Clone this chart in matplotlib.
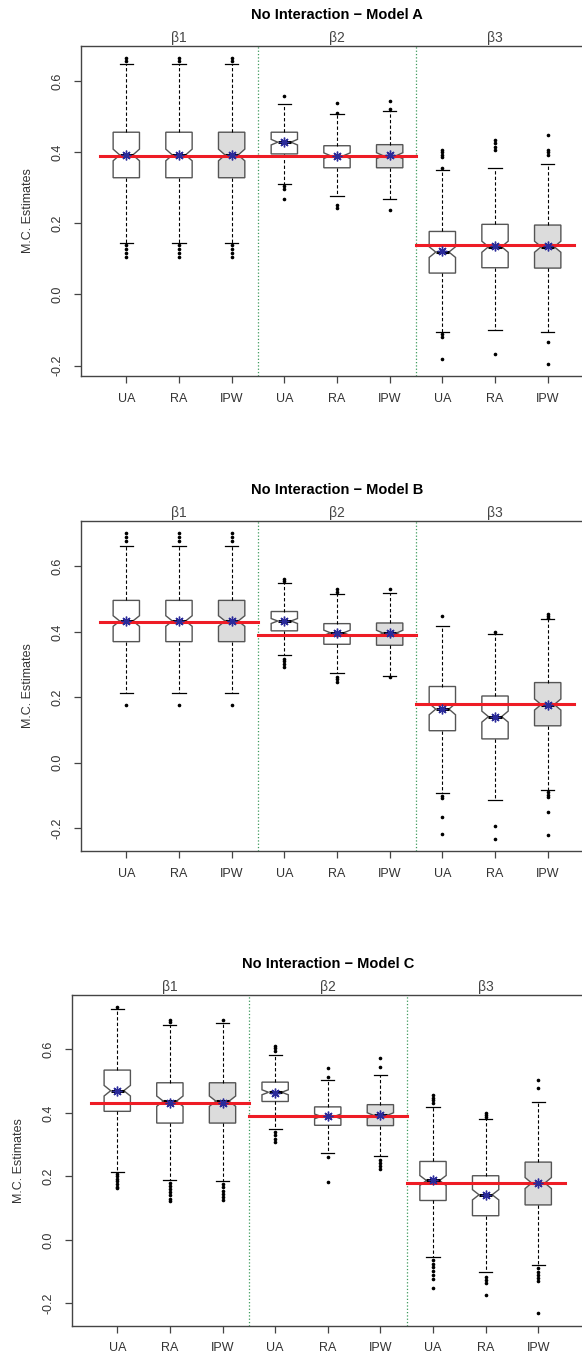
import numpy as np
import matplotlib.pyplot as plt

plt.rcParams['font.family'] = ['Liberation Sans', 'DejaVu Sans']

methods = ['UA', 'RA', 'IPW']
params = ['β1', 'β2', 'β3']
titles = ['No Interaction − Model A', 'No Interaction − Model B', 'No Interaction − Model C']
n_rep = 150  # replications, only used for the notch size

# true values (red lines), one per parameter
true_A = [0.39, 0.39, 0.14]
true_B = [0.43, 0.39, 0.18]
true_C = [0.43, 0.39, 0.18]

# box stats, order: b1 UA RA IPW, b2 UA RA IPW, b3 UA RA IPW
q1_A = [0.328, 0.328, 0.328, 0.395, 0.356, 0.356, 0.060, 0.075, 0.074]
med_A = [0.392, 0.392, 0.392, 0.428, 0.390, 0.390, 0.119, 0.134, 0.134]
q3_A = [0.456, 0.456, 0.456, 0.456, 0.418, 0.421, 0.177, 0.197, 0.195]
lo_A = [0.144, 0.144, 0.144, 0.311, 0.277, 0.268, -0.107, -0.100, -0.105]
hi_A = [0.647, 0.647, 0.647, 0.536, 0.506, 0.516, 0.350, 0.356, 0.368]
mean_A = [0.392, 0.392, 0.392, 0.429, 0.390, 0.391, 0.121, 0.136, 0.136]
fliers_A = [
    [0.664, 0.655, 0.139, 0.128, 0.116, 0.104],
    [0.664, 0.655, 0.139, 0.128, 0.116, 0.104],
    [0.664, 0.655, 0.139, 0.128, 0.116, 0.104],
    [0.559, 0.305, 0.296, 0.267],
    [0.539, 0.511, 0.252, 0.243],
    [0.544, 0.520, 0.237],
    [0.407, 0.400, 0.393, 0.386, 0.356, -0.112, -0.121, -0.182],
    [0.434, 0.425, 0.415, 0.406, -0.167],
    [0.448, 0.406, 0.399, 0.392, -0.133, -0.195],
]

q1_B = [0.370, 0.370, 0.370, 0.403, 0.362, 0.359, 0.098, 0.073, 0.113]
med_B = [0.433, 0.433, 0.433, 0.433, 0.397, 0.396, 0.164, 0.141, 0.178]
q3_B = [0.496, 0.496, 0.496, 0.462, 0.425, 0.427, 0.233, 0.204, 0.245]
lo_B = [0.212, 0.212, 0.212, 0.328, 0.274, 0.264, -0.093, -0.115, -0.083]
hi_B = [0.663, 0.663, 0.663, 0.549, 0.514, 0.518, 0.418, 0.392, 0.440]
mean_B = [0.433, 0.433, 0.433, 0.433, 0.397, 0.396, 0.164, 0.140, 0.178]
fliers_B = [
    [0.702, 0.690, 0.678, 0.175],
    [0.702, 0.690, 0.678, 0.175],
    [0.702, 0.690, 0.678, 0.175],
    [0.562, 0.556, 0.318, 0.310, 0.302, 0.294],
    [0.532, 0.521, 0.262, 0.255, 0.248],
    [0.532, 0.262],
    [0.449, -0.100, -0.107, -0.166, -0.217],
    [0.400, -0.192, -0.232],
    [0.455, 0.448, 0.443, -0.090, -0.097, -0.104, -0.149, -0.220],
]

q1_C = [0.405, 0.368, 0.368, 0.436, 0.361, 0.360, 0.124, 0.076, 0.110]
med_C = [0.470, 0.437, 0.437, 0.465, 0.389, 0.392, 0.187, 0.142, 0.179]
q3_C = [0.535, 0.495, 0.495, 0.497, 0.419, 0.426, 0.247, 0.202, 0.245]
lo_C = [0.215, 0.189, 0.184, 0.350, 0.274, 0.263, -0.055, -0.100, -0.079]
hi_C = [0.726, 0.676, 0.682, 0.583, 0.505, 0.521, 0.418, 0.382, 0.435]
mean_C = [0.470, 0.430, 0.430, 0.463, 0.389, 0.392, 0.187, 0.140, 0.178]
fliers_C = [
    [0.733, 0.208, 0.200, 0.192, 0.184, 0.176, 0.168, 0.163],
    [0.694, 0.686, 0.180, 0.170, 0.160, 0.150, 0.140, 0.130, 0.121],
    [0.692, 0.175, 0.165, 0.155, 0.145, 0.135, 0.124],
    [0.612, 0.603, 0.595, 0.340, 0.330, 0.318, 0.307],
    [0.540, 0.512, 0.262, 0.182],
    [0.572, 0.545, 0.253, 0.243, 0.232, 0.222],
    [0.455, 0.447, 0.440, 0.432, -0.064, -0.075, -0.086, -0.098, -0.110, -0.122, -0.151],
    [0.400, 0.394, 0.388, -0.116, -0.127, -0.137, -0.174],
    [0.505, 0.480, -0.090, -0.100, -0.110, -0.120, -0.130, -0.232],
]

panels = [
    (true_A, q1_A, med_A, q3_A, lo_A, hi_A, mean_A, fliers_A),
    (true_B, q1_B, med_B, q3_B, lo_B, hi_B, mean_B, fliers_B),
    (true_C, q1_C, med_C, q3_C, lo_C, hi_C, mean_C, fliers_C),
]

W, H = 582, 1359
# axes rectangles in pixels: left, top, right, bottom (right edge runs off the page)
rects_px = [(81, 46, 593, 376), (81, 520.7, 593, 851), (72, 995, 583.5, 1325.7)]

fig = plt.figure(figsize=(W / 100, H / 100), dpi=100)

labels = methods * len(params)
pos = np.arange(1, len(labels) + 1)

for p, (true, q1, med, q3, lo, hi, mean, fliers) in enumerate(panels):
    l, t, r, b = rects_px[p]
    ax = fig.add_axes([l / W, 1 - b / H, (r - l) / W, (b - t) / H])

    stats = []
    for i in range(len(med)):
        half = 1.57 * (q3[i] - q1[i]) / np.sqrt(n_rep)
        stats.append(dict(q1=q1[i], med=med[i], q3=q3[i], whislo=lo[i], whishi=hi[i],
                          mean=mean[i], fliers=np.array(fliers[i]),
                          cilo=med[i] - half, cihi=med[i] + half))

    bp = ax.bxp(stats, positions=pos, widths=0.5, shownotches=True, showmeans=True,
                patch_artist=True,
                boxprops=dict(edgecolor='#555555', linewidth=1.0),
                whiskerprops=dict(color='black', linestyle=(0, (3, 2)), linewidth=0.8),
                capprops=dict(color='black', linewidth=0.9),
                medianprops=dict(color='black', linewidth=2.2),
                meanprops=dict(marker=(8, 2, 0), markeredgecolor='#2b2b9a',
                               markerfacecolor='#2b2b9a', markersize=7,
                               markeredgewidth=1.0, zorder=5),
                flierprops=dict(marker='o', markersize=1.6, markerfacecolor='black',
                                markeredgecolor='black'))
    for k, patch in enumerate(bp['boxes']):
        patch.set_facecolor('#dcdcdc' if labels[k] == 'IPW' else 'white')

    # true values, one segment per parameter group
    for g in range(len(params)):
        ax.plot([0.5 + 3 * g, 3.5 + 3 * g], [true[g], true[g]], color='#ee1c25',
                linewidth=2.2, zorder=4)
        ax.annotate(params[g], xy=(2 + 3 * g, 1), xycoords=('data', 'axes fraction'),
                    xytext=(0, 5.5), textcoords='offset points', ha='center', va='center',
                    fontsize=10, color='#444444')
    for g in range(1, len(params)):
        ax.axvline(0.5 + 3 * g, color='#3c9a5c', linestyle=':', linewidth=0.9)

    # R style limits: 4% padding
    allv = lo + hi + [v for f in fliers for v in f]
    ymin, ymax = min(allv), max(allv)
    rng = ymax - ymin
    ax.set_ylim(ymin - 0.04 * rng, ymax + 0.04 * rng)
    n = len(labels)
    ax.set_xlim(0.5 - 0.04 * n, n + 0.5 + 0.04 * n)

    ax.set_xticks(pos)
    ax.set_xticklabels(labels)
    ax.set_yticks([-0.2, 0.0, 0.2, 0.4, 0.6])
    ax.set_yticklabels(['-0.2', '0.0', '0.2', '0.4', '0.6'])
    ax.tick_params(direction='out', length=5, width=0.9, color='#444444',
                   labelsize=9, labelcolor='#333333')
    ax.tick_params(axis='y', pad=7.5)
    ax.tick_params(axis='x', pad=7)
    for lab in ax.get_yticklabels():
        lab.set_rotation(90)
        lab.set_va('center')
    for s in ax.spines.values():
        s.set_color('#444444')
        s.set_linewidth(1.0)

    ax.set_ylabel('M.C. Estimates', fontsize=9, color='#333333')
    ax.yaxis.label.set_va('center')
    ax.yaxis.set_label_coords(-53 / (r - l), 0.5)

    ax.annotate(titles[p], xy=(0.5, 1), xycoords='axes fraction', xytext=(0, 22.3),
                textcoords='offset points', ha='center', va='center',
                fontsize=10.5, fontweight='bold', color='black')

fig.savefig('out.png', dpi=100)
